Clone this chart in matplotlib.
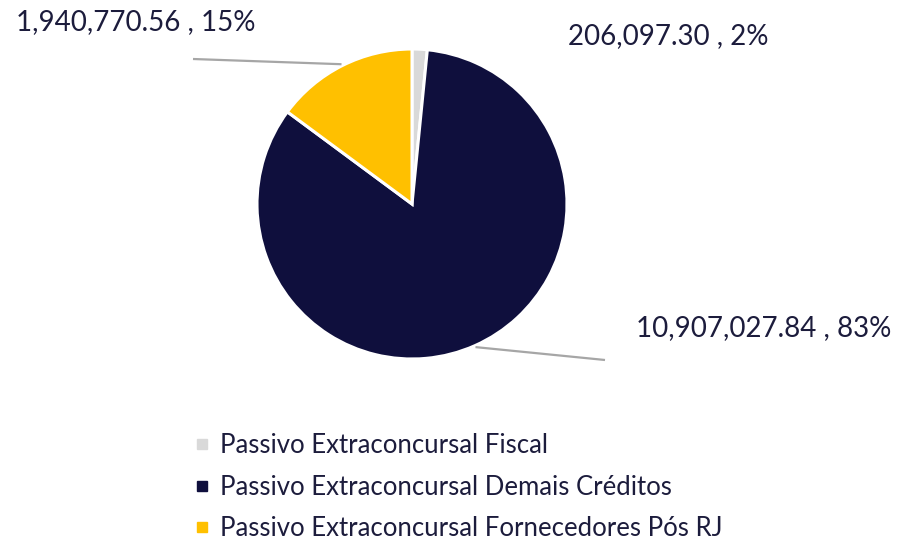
import numpy as np
import matplotlib
matplotlib.use("Agg")
import matplotlib.pyplot as plt
from matplotlib.lines import Line2D

categories = ["Passivo Extraconcursal Fiscal",
              "Passivo Extraconcursal Demais Créditos",
              "Passivo Extraconcursal Fornecedores Pós RJ"]
values = [206097.30, 10907027.84, 1940770.56]
pct_labels = ["2%", "83%", "15%"]
colors = ["#d9d9d9", "#0f0f3d", "#ffc000"]
text_color = "#1c1c3c"

plt.rcParams['font.family'] = ['Lato', 'DejaVu Sans']

fig = plt.figure(figsize=(9, 5.4), dpi=100)
ax = fig.add_axes([0, 0, 1, 1])
ax.set_xlim(0, 900)
ax.set_ylim(0, 540)
ax.set_aspect('equal')
ax.axis('off')

cx, cy, r = 412, 336, 155
wedges, _ = ax.pie(values, colors=colors, startangle=90, counterclock=False,
                   center=(cx, cy), radius=r,
                   wedgeprops=dict(edgecolor='white', linewidth=2.2))
ax.set_xlim(0, 900)
ax.set_ylim(0, 540)

# label positions (text anchor) and leader line ends
label_pos = [(668, 504), (764, 212), (136, 518)]
leader_end = [None, (605, 180), (193, 481)]
for i, w in enumerate(wedges):
    txt = f"{values[i]:,.2f} , {pct_labels[i]}"
    ax.text(label_pos[i][0], label_pos[i][1], txt, ha='center', va='center',
            fontsize=20, color=text_color)
    if leader_end[i] is not None:
        ang = np.deg2rad((w.theta1 + w.theta2) / 2)
        sx, sy = cx + r * 1.01 * np.cos(ang), cy + r * 1.01 * np.sin(ang)
        ax.plot([sx, leader_end[i][0]], [sy, leader_end[i][1]],
                color="#a6a6a6", lw=1.6, solid_capstyle='butt')

handles = [Line2D([0], [0], marker='s', linestyle='none', markersize=7,
                  markerfacecolor=c, markeredgecolor=c) for c in colors]
leg = ax.legend(handles, categories, loc='upper left',
                bbox_to_anchor=(194 / 900, 1 - 433 / 540), frameon=False,
                fontsize=18.5, handlelength=0.6, handletextpad=0.4,
                labelspacing=0.65, borderaxespad=0, borderpad=0)
for t in leg.get_texts():
    t.set_color(text_color)

fig.savefig("out.png", dpi=100, facecolor='white')
